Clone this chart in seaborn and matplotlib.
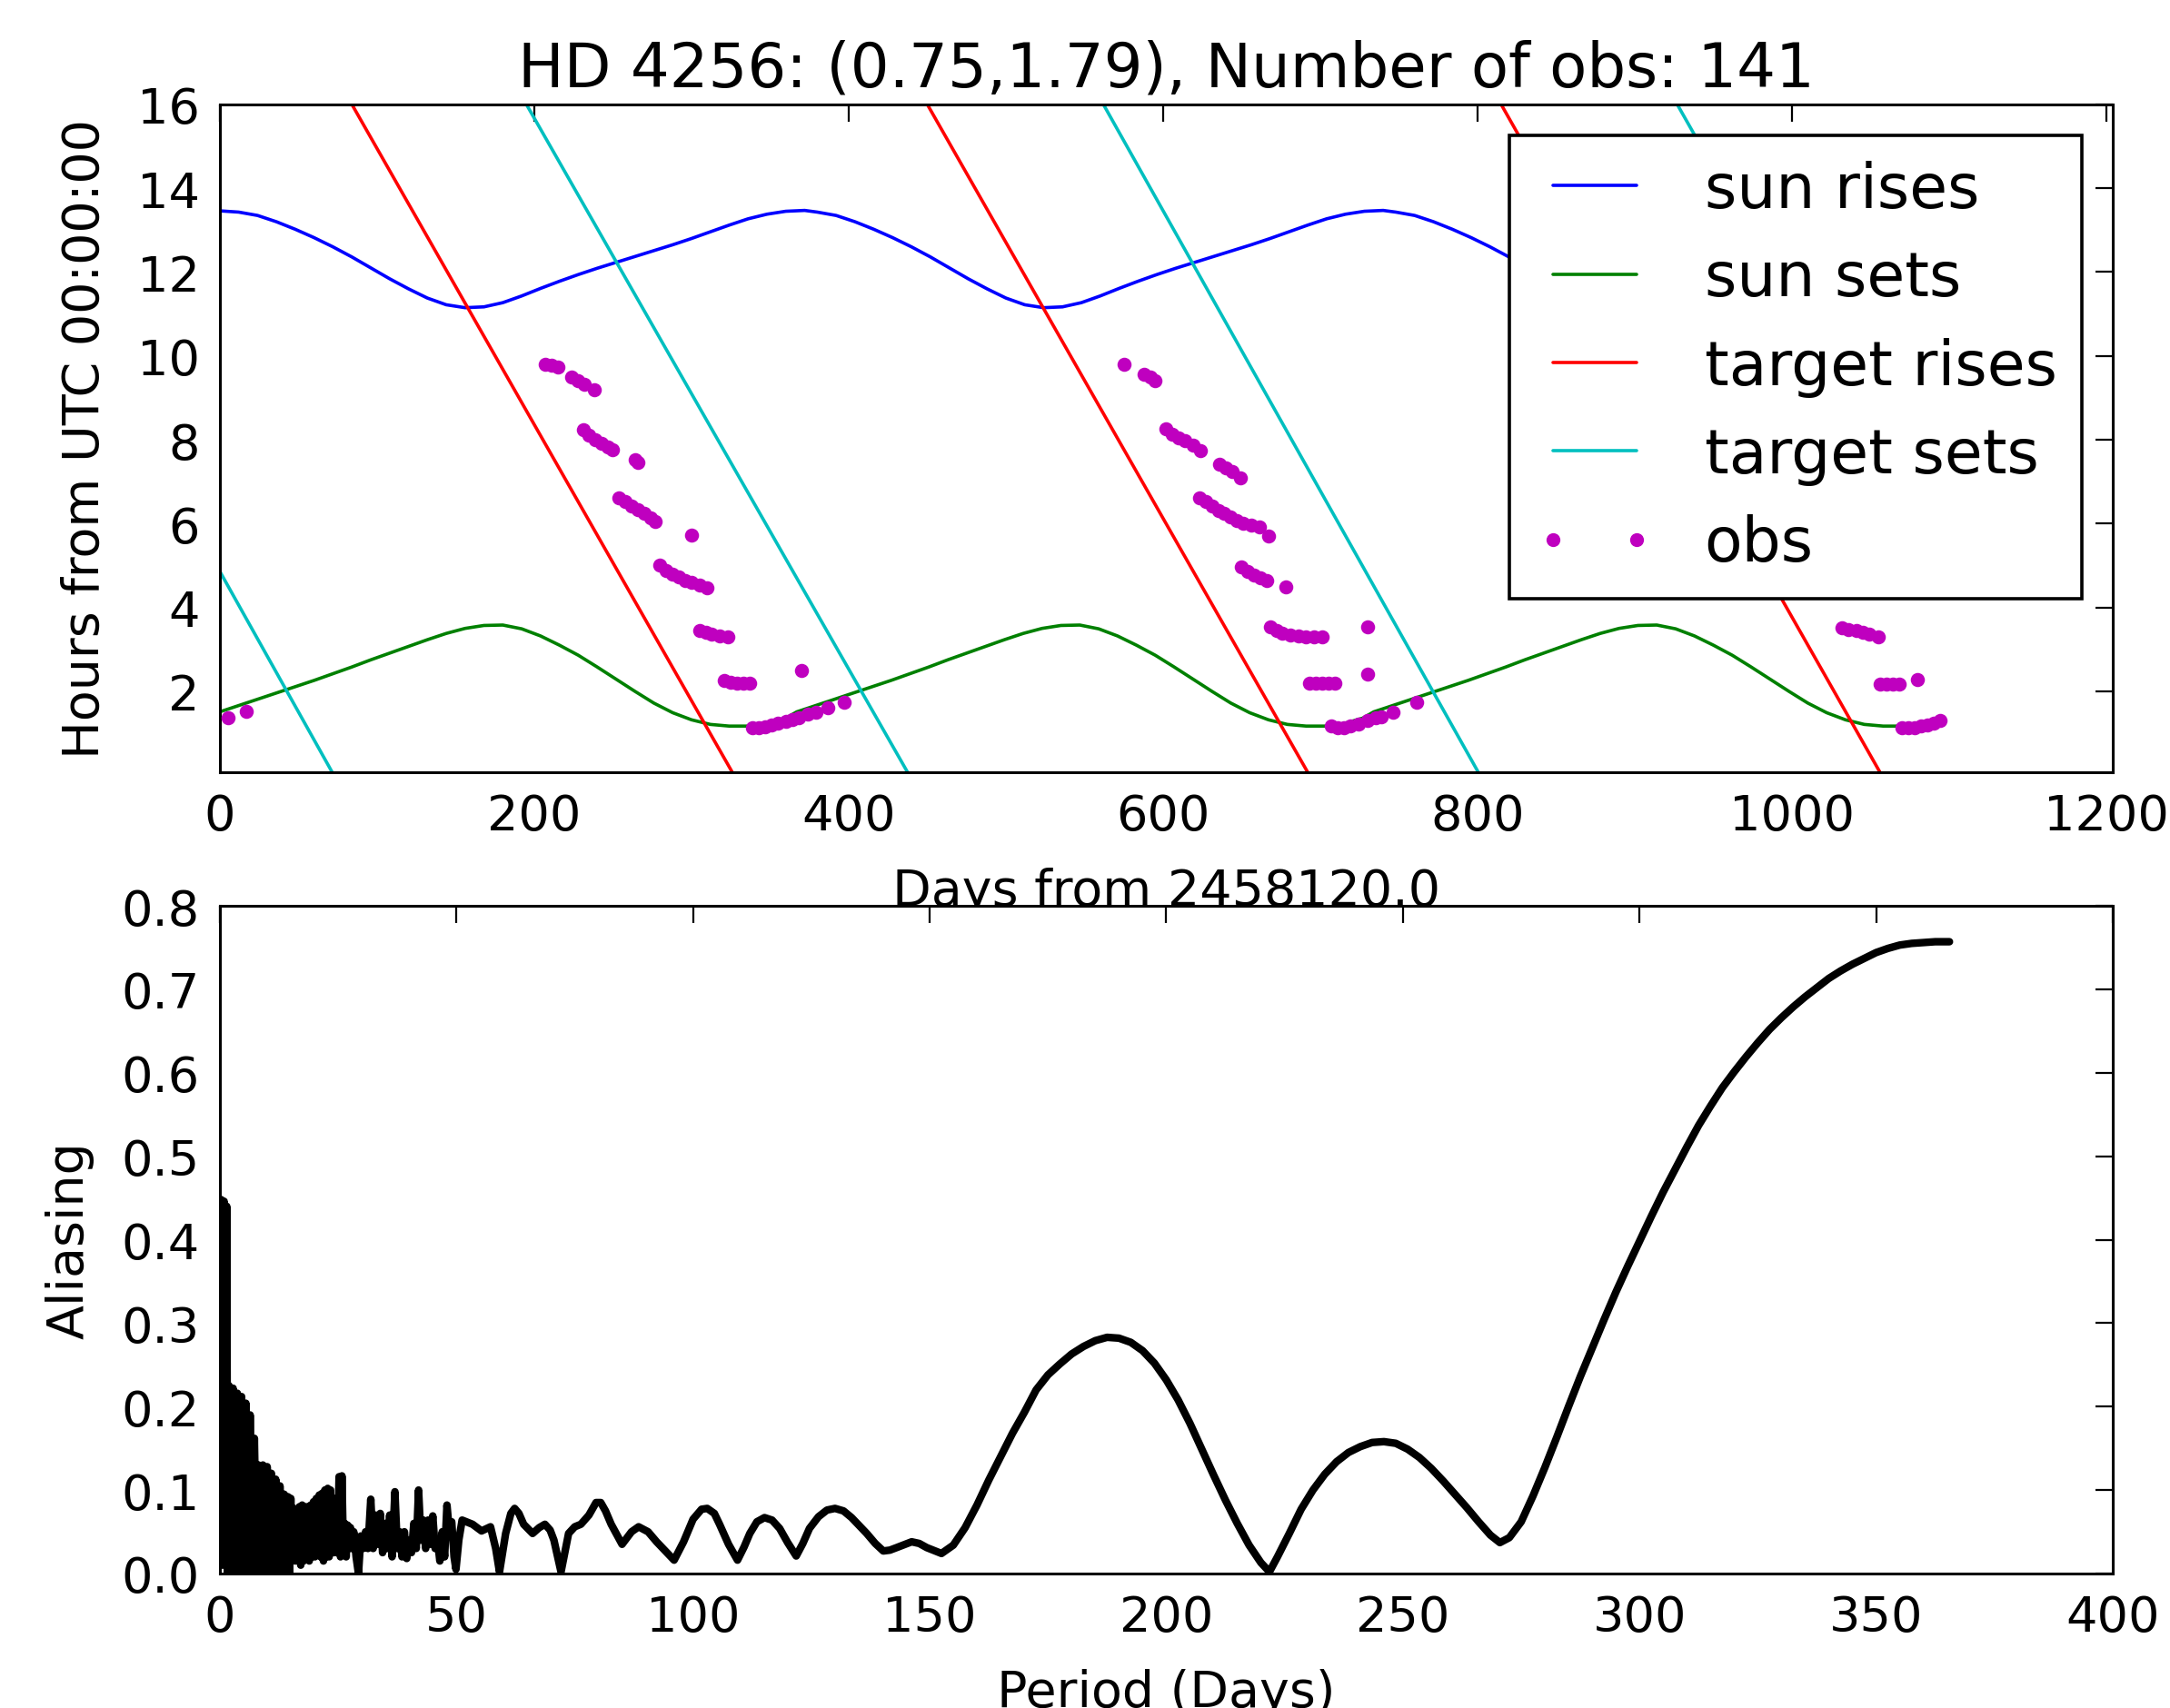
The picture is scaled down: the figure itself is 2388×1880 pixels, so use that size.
"""
HD 4256 visibility + aliasing plot (two panels)
"""
import matplotlib
matplotlib.use("Agg")
import matplotlib.pyplot as plt
from matplotlib.lines import Line2D
from matplotlib.ticker import MultipleLocator
import pandas as pd
import seaborn as sns

# ---------------- data ----------------
TITLE = "HD 4256: (0.75,1.79), Number of obs: 141"

# sun rise, hours from UTC 00:00:00
sun_rise_day = [0, 12, 24, 36, 48, 60, 72, 84, 96, 108, 120, 132, 144, 156, 168, 180,
                192, 204, 216, 228, 240, 252, 264, 276, 288, 300, 312, 324, 336, 348, 360, 372,
                380, 392, 404, 416, 428, 440, 452, 464, 476, 488, 500, 512, 524, 536, 548, 560,
                572, 584, 596, 608, 620, 632, 644, 656, 668, 680, 692, 704, 716, 728, 740,
                748, 760, 772, 784, 796, 808, 820, 832, 844, 856, 868, 880, 892, 904, 916, 928,
                940, 952, 964, 976, 988, 1000, 1012, 1024, 1036, 1048, 1060, 1072, 1084, 1096]
sun_rise_hr = [13.46, 13.43, 13.35, 13.20, 13.02, 12.82, 12.60, 12.36, 12.10, 11.84, 11.60, 11.38, 11.22, 11.15, 11.17, 11.27,
               11.43, 11.61, 11.78, 11.94, 12.09, 12.23, 12.37, 12.51, 12.65, 12.80, 12.96, 13.12, 13.27, 13.38, 13.45, 13.47,
               13.43, 13.35, 13.20, 13.02, 12.82, 12.60, 12.36, 12.10, 11.84, 11.60, 11.38, 11.22, 11.15, 11.17, 11.27,
               11.43, 11.61, 11.78, 11.94, 12.09, 12.23, 12.37, 12.51, 12.65, 12.80, 12.96, 13.12, 13.27, 13.38, 13.45, 13.47,
               13.43, 13.35, 13.20, 13.02, 12.82, 12.60, 12.36, 12.10, 11.84, 11.60, 11.38, 11.22, 11.15, 11.17, 11.27,
               11.43, 11.61, 11.78, 11.94, 12.09, 12.23, 12.37, 12.51, 12.65, 12.80, 12.96, 13.12, 13.27, 13.38, 13.45]

# sun set
sun_set_day = [0, 12, 24, 36, 48, 60, 72, 84, 96, 108, 120, 132, 144, 156, 168, 180,
               192, 204, 216, 228, 240, 252, 264, 276, 288, 300, 312, 324, 336, 348, 360,
               367, 379, 391, 403, 415, 427, 439, 451, 463, 475, 487, 499, 511, 523, 535, 547,
               559, 571, 583, 595, 607, 619, 631, 643, 655, 667, 679, 691, 703, 715, 727,
               734, 746, 758, 770, 782, 794, 806, 818, 830, 842, 854, 866, 878, 890, 902, 914,
               926, 938, 950, 962, 974, 986, 998, 1010, 1022, 1034, 1046, 1058, 1070, 1082, 1094]
sun_set_hr = [1.51, 1.66, 1.81, 1.96, 2.11, 2.26, 2.42, 2.58, 2.75, 2.91, 3.07, 3.23, 3.38, 3.50, 3.57, 3.58,
              3.49, 3.32, 3.10, 2.86, 2.58, 2.29, 2.00, 1.72, 1.49, 1.32, 1.21, 1.17, 1.17, 1.23, 1.36,
              1.51, 1.66, 1.81, 1.96, 2.11, 2.26, 2.42, 2.58, 2.75, 2.91, 3.07, 3.23, 3.38, 3.50, 3.57, 3.58,
              3.49, 3.32, 3.10, 2.86, 2.58, 2.29, 2.00, 1.72, 1.49, 1.32, 1.21, 1.17, 1.17, 1.23, 1.36,
              1.51, 1.66, 1.81, 1.96, 2.11, 2.26, 2.42, 2.58, 2.75, 2.91, 3.07, 3.23, 3.38, 3.50, 3.57, 3.58,
              3.49, 3.32, 3.10, 2.86, 2.58, 2.29, 2.00, 1.72, 1.49, 1.32, 1.21, 1.17, 1.17, 1.23, 1.36]

# target rise / set tracks (straight, one start/end pair per track)
target_rise_day = [84, 327, 450, 693, 815, 1057]
target_rise_hr = [16, 0, 16, 0, 16, 0]
target_rise_track = [0, 0, 1, 1, 2, 2]

target_set_day = [0, 72.5, 195, 438.5, 562, 801.5, 927, 1095]
target_set_hr = [4.86, 0, 16, 0, 16, 0, 16, 4.9]
target_set_track = [0, 0, 1, 1, 2, 2, 3, 3]

# observations (141)
obs_day = [5, 17,
           207, 211, 215, 224, 228, 232, 238,
           231, 235, 239, 243, 247, 250, 264, 266,
           254, 258, 262, 266, 270, 274, 277, 300,
           280, 284, 288, 292, 296, 300, 305, 310,
           305, 309, 313, 318, 323,
           321, 325, 329, 333, 337, 370,
           339, 343, 347, 351, 355, 360, 364, 368, 374, 379, 387, 397,
           575, 588, 592, 595,
           602, 606, 610, 614, 619, 624,
           636, 640, 644, 649,
           623, 627, 631, 635, 639, 643, 647, 651, 656, 661, 667,
           650, 654, 658, 662, 666, 678,
           668, 672, 676, 681, 686, 691, 696, 701, 730,
           693, 697, 701, 705, 709, 730,
           707, 711, 715, 719, 724, 730, 735, 739, 746, 761,
           942, 968, 972, 976, 990, 994, 998, 1015, 1019, 1023, 1027,
           1032, 1036, 1041, 1045, 1049, 1055,
           1056, 1060, 1064, 1068, 1080,
           1070, 1074, 1078, 1082, 1086, 1090, 1094]
obs_hr = [1.38, 1.53,
          9.81, 9.78, 9.74, 9.49, 9.42, 9.33, 9.19,
          8.23, 8.10, 8.00, 7.91, 7.82, 7.77, 7.52, 7.45,
          6.62, 6.52, 6.42, 6.33, 6.24, 6.14, 6.06, 5.73,
          5.00, 4.88, 4.80, 4.72, 4.65, 4.60, 4.54, 4.47,
          3.45, 3.40, 3.36, 3.32, 3.29,
          2.26, 2.22, 2.19, 2.19, 2.19, 2.49,
          1.14, 1.13, 1.16, 1.19, 1.23, 1.28, 1.33, 1.36, 1.45, 1.50, 1.60, 1.74,
          9.79, 9.57, 9.50, 9.42,
          8.26, 8.14, 8.04, 7.97, 7.88, 7.73,
          7.41, 7.32, 7.25, 7.10,
          6.62, 6.52, 6.42, 6.32, 6.24, 6.15, 6.08, 6.00, 5.96, 5.92, 5.71,
          4.97, 4.86, 4.77, 4.70, 4.65, 4.49,
          3.53, 3.44, 3.38, 3.34, 3.31, 3.30, 3.29, 3.30, 3.53,
          2.20, 2.20, 2.20, 2.20, 2.20, 2.41,
          1.17, 1.14, 1.14, 1.18, 1.22, 1.30, 1.36, 1.40, 1.51, 1.73,
          9.70, 8.10, 8.00, 7.90, 6.50, 6.40, 6.30, 4.90, 4.80, 4.70, 4.62,
          3.51, 3.48, 3.44, 3.40, 3.36, 3.30,
          2.17, 2.17, 2.17, 2.17, 2.28,
          1.14, 1.14, 1.14, 1.17, 1.20, 1.24, 1.30]

# aliasing vs trial period
period_day = [0.05, 0.3, 0.6, 0.9, 1.2, 1.45, 1.65, 1.95, 2.4, 2.8,
              3.3, 3.7, 4.2, 4.6, 5.1, 5.5, 6.0, 6.4, 6.9, 7.3,
              7.8, 8.2, 8.7, 9.1, 9.6, 10.0, 10.5, 10.9, 11.4, 11.8,
              12.3, 12.7, 13.2, 13.6,
              14.1, 14.4, 14.7, 15.0, 15.3, 15.6, 15.9, 16.2, 16.5, 16.8,
              17.1, 17.4, 17.7, 18.0, 18.3, 18.6, 18.9, 19.2, 19.5, 19.8,
              20.1, 20.4, 20.7, 21.0, 21.3, 21.6, 21.9, 22.2, 22.5, 22.8,
              23.1, 23.4, 23.7, 24.0, 24.3, 24.6, 24.9, 25.2, 25.5, 25.8,
              26.1, 26.4, 26.7, 27.0, 27.3, 27.6, 27.9,
              28.3, 28.8, 29.3, 29.8, 30.3, 30.8, 31.3, 31.9, 32.4, 32.9,
              33.4, 33.9, 34.4, 34.9, 35.4, 35.9, 36.4, 37.0, 37.5, 38.0,
              38.5, 39.0, 39.5, 40.0, 40.5, 41.0, 41.5, 42.0, 42.5, 43.0,
              43.5, 44.0, 44.5, 45.0, 45.5, 46.0, 46.5, 47.0, 47.5, 48.0,
              48.5, 49.0, 49.5, 49.9, 50.5,
              51.2, 53.4, 55.3, 57.2, 58.3, 59.1, 60.4, 61.5, 62.3, 63.2,
              64.2, 66.1, 67.5, 68.7, 69.8, 70.6, 72.1, 73.7, 75.0, 76.3,
              78.0, 79.5, 80.5, 81.5, 82.7, 85.0, 87.0, 88.5, 90.5, 92.3,
              94.5, 96.0, 98.0, 100.0, 101.8, 103.0, 104.5, 105.6, 107.5, 109.4,
              110.8, 112.0, 113.5, 115.1, 116.7, 118.3, 120.0, 121.8, 123.2, 124.6,
              126.5, 128.3, 130.0, 131.8, 133.5, 136.7, 138.5, 140.2, 141.6, 143.0,
              146.2, 147.8, 149.4, 152.5,
              155.0, 157.5, 160.0, 162.5, 165.0, 167.5, 170.0, 172.5, 175.0, 177.5,
              180.0, 182.5, 185.0, 187.5, 190.0, 192.5, 195.0, 197.5, 200.0, 202.5,
              205.0, 207.5, 210.0, 212.5, 215.0, 217.5, 220.0, 221.8, 223.5, 226.0,
              228.5, 231.0, 233.5, 236.0, 238.5, 241.0, 243.5, 246.0, 248.5, 251.0,
              253.5, 256.0, 258.5, 261.0, 263.5, 266.0, 268.5, 270.5, 272.5, 275.0,
              277.5, 280.0, 282.5, 285.0, 287.5, 290.0, 292.5, 295.0, 297.5, 300.0,
              302.5, 305.0, 307.5, 310.0, 312.5, 315.0, 317.5, 320.0, 322.5, 325.0,
              327.5, 330.0, 332.5, 335.0, 337.5, 340.0, 342.5, 345.0, 347.5, 350.0,
              352.5, 355.0, 357.5, 360.0, 362.5, 365.5]
aliasing = [0.20, 0.448, 0.01, 0.446, 0.02, 0.44, 0.0, 0.225, 0.0, 0.222,
            0.0, 0.216, 0.0, 0.212, 0.0, 0.204, 0.0, 0.19, 0.0, 0.162,
            0.0, 0.13, 0.0, 0.13, 0.0, 0.128, 0.0, 0.12, 0.0, 0.113,
            0.0, 0.105, 0.0, 0.095,
            0.005, 0.092, 0.0, 0.09, 0.02, 0.078, 0.015, 0.075, 0.02, 0.08,
            0.01, 0.082, 0.015, 0.08, 0.02, 0.08, 0.015, 0.082, 0.02, 0.086,
            0.02, 0.09, 0.025, 0.094, 0.02, 0.096, 0.015, 0.1, 0.02, 0.102,
            0.02, 0.1, 0.03, 0.09, 0.025, 0.088, 0.03, 0.116, 0.02, 0.117,
            0.03, 0.06, 0.02, 0.058, 0.03, 0.055, 0.03,
            0.05, 0.02, 0.0, 0.045, 0.03, 0.05, 0.03, 0.089, 0.03, 0.07,
            0.035, 0.072, 0.025, 0.06, 0.03, 0.07, 0.02, 0.098, 0.03, 0.05,
            0.02, 0.05, 0.018, 0.04, 0.025, 0.06, 0.03, 0.1, 0.04, 0.064,
            0.03, 0.064, 0.035, 0.069, 0.03, 0.04, 0.015, 0.05, 0.02, 0.082,
            0.05, 0.062, 0.02, 0.005, 0.04,
            0.064, 0.059, 0.051, 0.056, 0.03, 0.002, 0.048, 0.072, 0.078, 0.072,
            0.059, 0.048, 0.055, 0.059, 0.052, 0.04, 0.002, 0.048, 0.056, 0.059,
            0.07, 0.085, 0.085, 0.075, 0.059, 0.035, 0.05, 0.056, 0.05, 0.038,
            0.025, 0.016, 0.038, 0.065, 0.077, 0.078, 0.072, 0.059, 0.035, 0.016,
            0.032, 0.048, 0.062, 0.067, 0.064, 0.054, 0.037, 0.021, 0.036, 0.054,
            0.068, 0.076, 0.078, 0.075, 0.067, 0.048, 0.036, 0.027, 0.028, 0.031,
            0.038, 0.036, 0.031, 0.024,
            0.034, 0.055, 0.082, 0.112, 0.14, 0.168, 0.193, 0.22, 0.238, 0.251,
            0.263, 0.272, 0.279, 0.283, 0.282, 0.277, 0.267, 0.252, 0.232, 0.208,
            0.18, 0.149, 0.118, 0.088, 0.06, 0.034, 0.013, 0.002, 0.02, 0.048,
            0.077, 0.1, 0.119, 0.134, 0.145, 0.152, 0.157, 0.158, 0.156, 0.149,
            0.139, 0.126, 0.111, 0.095, 0.079, 0.062, 0.046, 0.037, 0.043, 0.062,
            0.093, 0.127, 0.163, 0.2, 0.236, 0.27, 0.304, 0.337, 0.368, 0.398,
            0.428, 0.457, 0.484, 0.511, 0.537, 0.56, 0.582, 0.601, 0.619, 0.636,
            0.652, 0.666, 0.679, 0.691, 0.702, 0.713, 0.722, 0.73, 0.737, 0.744,
            0.749, 0.753, 0.755, 0.756, 0.757, 0.757]

legend_labels = ["sun rises", "sun sets", "target rises", "target sets", "obs"]

# classic matplotlib colours
C_BLUE, C_GREEN, C_RED, C_CYAN, C_MAG = "#0000ff", "#008000", "#ff0000", "#00bfbf", "#bf00bf"

# ---------------- style ----------------
sns.set_style("white")
plt.rcParams.update({
    "font.family": ["DejaVu Sans"],
    "text.color": "black",
    "axes.labelcolor": "black",
    "axes.edgecolor": "black",
    "xtick.color": "black",
    "ytick.color": "black",
})

TICK_FS = 39
LABEL_FS = 40
TITLE_FS = 48.5
LEGEND_FS = 49
LW = 2.6

fig = plt.figure(figsize=(23.88, 18.81), dpi=100)
ax1 = fig.add_axes([0.1013, 0.5476, 0.8723, 0.3908])
ax2 = fig.add_axes([0.1013, 0.0787, 0.8723, 0.3907])

# ---------------- top panel ----------------
sns.lineplot(x=sun_rise_day, y=sun_rise_hr, color=C_BLUE, linewidth=LW,
             sort=False, estimator=None, ax=ax1)
sns.lineplot(x=sun_set_day, y=sun_set_hr, color=C_GREEN, linewidth=LW,
             sort=False, estimator=None, ax=ax1)

rise_df = pd.DataFrame({"day": target_rise_day, "hr": target_rise_hr, "track": target_rise_track})
set_df = pd.DataFrame({"day": target_set_day, "hr": target_set_hr, "track": target_set_track})
sns.lineplot(data=rise_df, x="day", y="hr", units="track", estimator=None, sort=False,
             color=C_RED, linewidth=LW, ax=ax1, legend=False)
sns.lineplot(data=set_df, x="day", y="hr", units="track", estimator=None, sort=False,
             color=C_CYAN, linewidth=LW, ax=ax1, legend=False)

sns.scatterplot(x=obs_day, y=obs_hr, color=C_MAG, s=125, linewidth=0, ax=ax1, zorder=5)

ax1.set_xlim(0, 1204)
ax1.set_ylim(0.07, 16)
ax1.xaxis.set_major_locator(MultipleLocator(200))
ax1.yaxis.set_major_locator(MultipleLocator(2))
ax1.set_title(TITLE, fontsize=TITLE_FS, pad=15)
ax1.set_xlabel("Days from 2458120.0", fontsize=LABEL_FS, labelpad=21.5)
ax1.set_ylabel("Hours from UTC 00:00:00", fontsize=LABEL_FS, labelpad=21.5)

handles = [Line2D([], [], color=C_BLUE, linewidth=LW),
           Line2D([], [], color=C_GREEN, linewidth=LW),
           Line2D([], [], color=C_RED, linewidth=LW),
           Line2D([], [], color=C_CYAN, linewidth=LW),
           Line2D([], [], linestyle="none", marker="o", color=C_MAG,
                  markersize=11, markeredgewidth=0)]
leg = ax1.legend(handles, legend_labels, loc="upper right", fontsize=LEGEND_FS, numpoints=2,
                 handlelength=1.95, handletextpad=0.8, borderpad=0.4, labelspacing=0.46,
                 borderaxespad=0.5, fancybox=False, framealpha=1, edgecolor="black")
leg.get_frame().set_linewidth(LW)
leg.set_zorder(10)

# ---------------- bottom panel ----------------
sns.lineplot(x=period_day, y=aliasing, color="black", linewidth=6,
             sort=False, estimator=None, ax=ax2)
ax2.set_xlim(0, 400)
ax2.set_ylim(0, 0.8)
ax2.xaxis.set_major_locator(MultipleLocator(50))
ax2.yaxis.set_major_locator(MultipleLocator(0.1))
ax2.set_xlabel("Period (Days)", fontsize=LABEL_FS, labelpad=21.5)
ax2.set_ylabel("Aliasing", fontsize=LABEL_FS, labelpad=21.5)

for ax in (ax1, ax2):
    ax.tick_params(direction="in", length=13.5, width=1.6, pad=16,
                   labelsize=TICK_FS, top=True, right=True)
    for sp in ax.spines.values():
        sp.set_linewidth(2.2)
        sp.set_color("black")
    ax.grid(False)

fig.savefig("out.png", dpi=100)
